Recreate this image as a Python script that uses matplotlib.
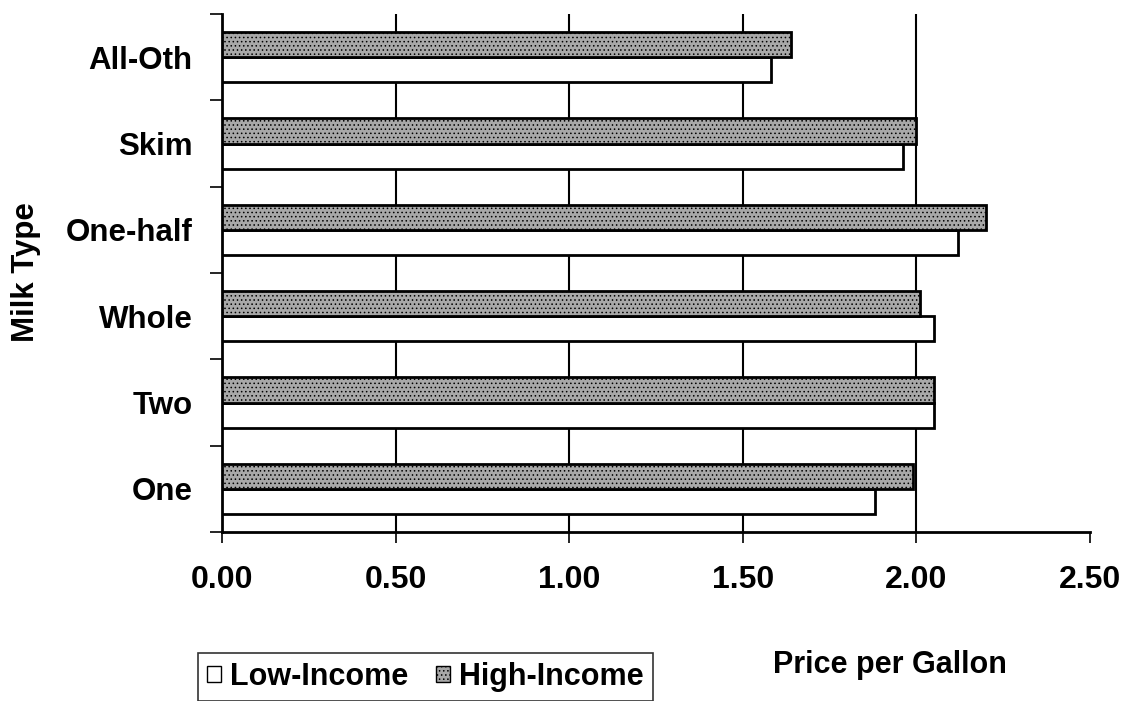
"""Milk price per gallon by milk type, low vs high income."""

import matplotlib

matplotlib.use("Agg")
import matplotlib.pyplot as plt
import numpy as np
from matplotlib.patches import Patch

categories = ["One", "Two", "Whole", "One-half", "Skim", "All-Oth"]
low_income = [1.88, 2.05, 2.05, 2.12, 1.96, 1.58]
high_income = [1.99, 2.05, 2.01, 2.20, 2.00, 1.64]
x_ticks = [0.0, 0.5, 1.0, 1.5, 2.0, 2.5]

plt.rcParams["font.family"] = ["Liberation Sans", "DejaVu Sans"]
plt.rcParams["font.weight"] = "bold"
plt.rcParams["hatch.linewidth"] = 0.6

W, H = 1122, 701
FS = 22.5
fig = plt.figure(figsize=(W / 100, H / 100), dpi=100)
ax = fig.add_axes([222 / W, 1 - 532 / H, (1090 - 222) / W, (532 - 14) / H])

y = np.arange(len(categories))
h = 0.29
low_face = "white"
high_face = "#a8a8a8"

ax.barh(y - h / 2, low_income, height=h, color=low_face,
        edgecolor="black", linewidth=2, zorder=3)
ax.barh(y + h / 2, high_income, height=h, color=high_face,
        edgecolor="black", linewidth=2, hatch="....", zorder=3)

ax.set_xlim(0, 2.5)
ax.set_ylim(-0.5, len(categories) - 0.5)

ax.set_xticks(x_ticks)
ax.set_xticklabels([f"{v:.2f}" for v in x_ticks], fontsize=FS + 0.5, fontweight="bold")
ax.tick_params(axis="x", length=8, width=1.2, pad=16)

ax.set_yticks(y)
ax.set_yticklabels(categories, fontsize=FS, fontweight="bold")
ax.tick_params(axis="y", which="major", length=0, pad=21)
ax.set_yticks(np.arange(len(categories) + 1) - 0.5, minor=True)
ax.tick_params(axis="y", which="minor", length=9, width=1.2, direction="out")

ax.xaxis.grid(True, color="black", linewidth=1.5, zorder=1)
ax.set_axisbelow(True)
for t in (ax.xaxis.get_major_ticks()[0], ax.xaxis.get_major_ticks()[-1]):
    t.gridline.set_visible(False)

for side in ("top", "right"):
    ax.spines[side].set_visible(False)
for side in ("left", "bottom"):
    ax.spines[side].set_linewidth(2)

fig.text(26 / W, 1 - 272 / H, "Milk Type", fontsize=FS, fontweight="bold",
         rotation=90, ha="center", va="center")
fig.text(890 / W, 1 - 665 / H, "Price per Gallon", fontsize=22,
         fontweight="bold", ha="center", va="center")

handles = [
    Patch(facecolor=low_face, edgecolor="black", linewidth=1),
    Patch(facecolor=high_face, edgecolor="black", linewidth=1, hatch="...."),
]
leg = fig.legend(handles, ["Low-Income", "High-Income"], ncol=2,
                 loc="upper left", bbox_to_anchor=(198 / W, 1 - 653 / H),
                 frameon=True, fancybox=False,
                 prop={"weight": "bold", "size": 22},
                 handlelength=0.45, handleheight=0.45, handletextpad=0.3,
                 columnspacing=0.9, borderpad=0.3, borderaxespad=0)
leg.get_frame().set_edgecolor("black")
leg.get_frame().set_linewidth(1.2)

fig.savefig("out.png", dpi=100, facecolor="white")
